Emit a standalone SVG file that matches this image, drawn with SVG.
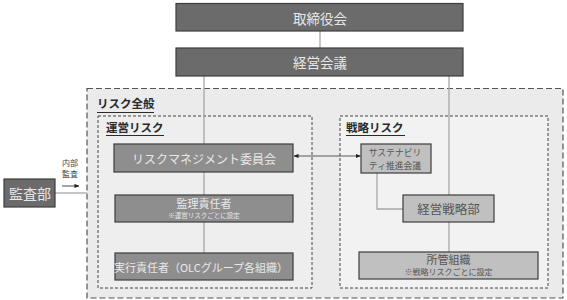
<svg xmlns="http://www.w3.org/2000/svg" width="567" height="300" viewBox="0 0 567 300">
<defs>
<style>
text{font-family:"Noto Sans CJK JP","Noto Sans",sans-serif;dominant-baseline:central;text-anchor:middle}
.dark{fill:#6b6b6b;stroke:#3c3c3c;stroke-width:1.2}
.mid{fill:#8e8e8e;stroke:#3c3c3c;stroke-width:1.2}
.light{fill:#c0c0c0;stroke:#3c3c3c;stroke-width:1.2}
.tl{fill:#e8e8e8}
.td{fill:#555}
.title{font-weight:bold;fill:#2a2a2a;text-anchor:start;font-size:11.5px}
.ul{stroke:#2a2a2a;stroke-width:1}
.conn{stroke:#a6a6a6;stroke-width:1.3;fill:none}
</style>
<marker id="ah" viewBox="0 0 6 6" refX="5.5" refY="3" markerWidth="5" markerHeight="5" orient="auto-start-reverse" markerUnits="userSpaceOnUse">
<path d="M0,0.5 L6,3 L0,5.5 Z" fill="#222"/>
</marker>
</defs>
<rect width="567" height="300" fill="#fff"/>

<g id="area-all">
<rect x="87" y="88.5" width="476" height="209.5" fill="#ebebeb" stroke="#555" stroke-width="1.2" stroke-dasharray="6,3"/>
<text class="title" x="97" y="103">リスク全般</text>
<line class="ul" x1="97" y1="112.5" x2="154" y2="112.5"/>
</g>
<g id="area-ops">
<rect x="98" y="116" width="214" height="172" fill="#eeeeee" stroke="#444" stroke-width="1" stroke-dasharray="3,2"/>
<text class="title" x="106" y="127">運営リスク</text>
<line class="ul" x1="106" y1="135.5" x2="164" y2="135.5"/>
</g>
<g id="area-strat">
<rect x="340" y="116" width="208" height="172" fill="#f2f2f2" stroke="#444" stroke-width="1" stroke-dasharray="3,2"/>
<text class="title" x="346" y="127">戦略リスク</text>
<line class="ul" x1="346" y1="135.5" x2="405" y2="135.5"/>
</g>

<g id="connectors">
<line class="conn" x1="320" y1="31" x2="320" y2="48"/>
<line class="conn" x1="204" y1="76" x2="204" y2="253"/>
<line class="conn" x1="449" y1="76" x2="449" y2="195"/>
<polyline class="conn" points="377,173 377,209 403,209"/>
<line class="conn" x1="449" y1="222" x2="449" y2="252"/>
<line class="conn" x1="55" y1="193" x2="87" y2="193"/>
<line x1="294" y1="156" x2="360.5" y2="156" stroke="#333" stroke-width="0.8" marker-start="url(#ah)" marker-end="url(#ah)"/>
<line x1="62" y1="186" x2="79" y2="186" stroke="#333" stroke-width="0.9" marker-end="url(#ah)"/>
<text x="70" y="162" font-size="8" fill="#444">内部</text>
<text x="70" y="173.5" font-size="8" fill="#444">監査</text>
</g>

<g id="board">
<rect class="dark" x="176" y="3.5" width="287" height="27.5"/>
<text class="tl" x="320" y="17.5" font-size="13.5">取締役会</text>
</g>
<g id="mgmt-meeting">
<rect class="dark" x="176" y="48" width="287" height="28"/>
<text class="tl" x="320" y="62" font-size="13.5">経営会議</text>
</g>
<g id="audit">
<rect class="dark" x="4" y="179" width="51" height="28"/>
<text class="tl" x="30" y="193" font-size="14">監査部</text>
</g>
<g id="rm-committee">
<rect class="mid" x="114" y="144" width="179" height="28"/>
<text class="tl" x="204" y="158" font-size="12">リスクマネジメント委員会</text>
</g>
<g id="supervisor">
<rect class="mid" x="115" y="195" width="178" height="27"/>
<text class="tl" x="204" y="202.5" font-size="11">監理責任者</text>
<text class="tl" x="204" y="215" font-size="6.5">※運営リスクごとに設定</text>
</g>
<g id="executor">
<rect class="mid" x="115" y="253" width="178" height="27"/>
<text class="tl" x="201" y="267" font-size="11">実行責任者（OLCグループ各組織）</text>
</g>
<g id="sustainability">
<rect class="light" x="361" y="144" width="70" height="29"/>
<text class="td" x="395" y="152" font-size="8.8">サステナビリ</text>
<text class="td" x="395" y="165" font-size="8.8">ティ推進会議</text>
</g>
<g id="strategy-dept">
<rect class="light" x="403" y="195" width="91" height="27"/>
<text class="td" x="448.5" y="208.5" font-size="12.5">経営戦略部</text>
</g>
<g id="divisions">
<rect class="light" x="359" y="252" width="179" height="27"/>
<text class="td" x="448.5" y="258.5" font-size="11">所管組織</text>
<text class="td" x="448.5" y="271.5" font-size="8">※戦略リスクごとに設定</text>
</g>
</svg>
